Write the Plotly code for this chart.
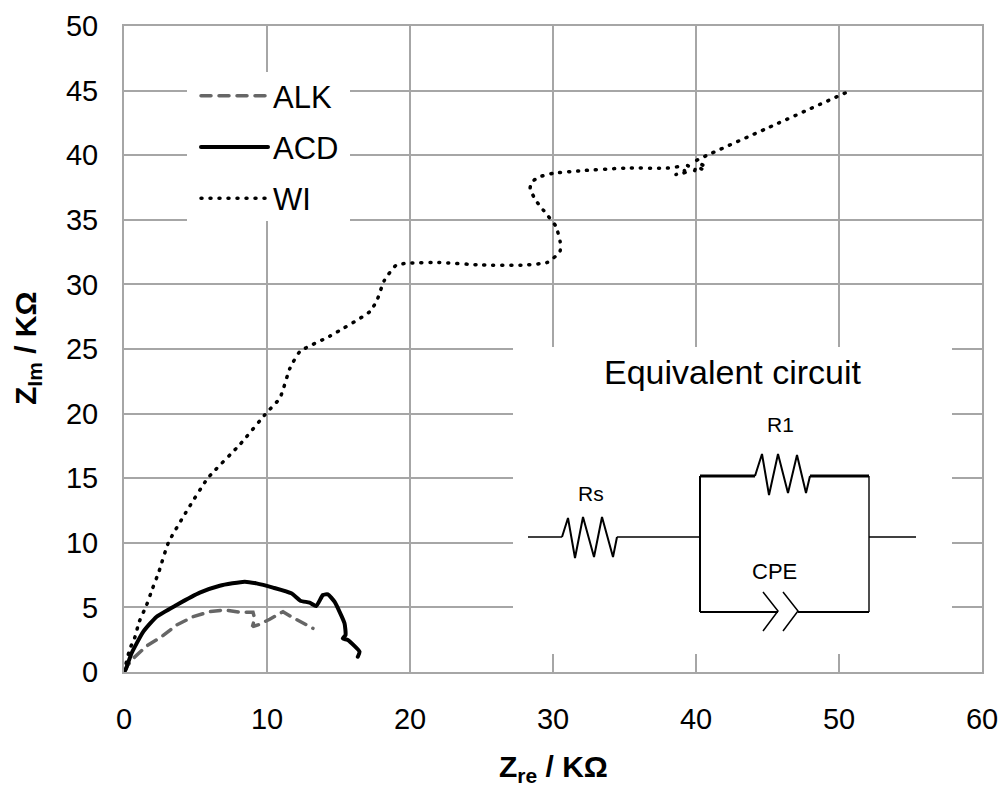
import plotly.graph_objects as go

FONT = "Liberation Sans"
GRID = "#a6a6a6"

# Nyquist curves: Zre / KOhm, Zim / KOhm
alk_x = [0.0, 0.25, 0.65, 1.58, 2.63, 3.68, 4.84, 6.0, 7.05, 8.09, 9.02, 9.14, 8.98, 9.37, 10.19, 11.12, 11.7, 12.51, 13.21]
alk_y = [0.0, 0.5, 1.06, 2.01, 2.73, 3.64, 4.28, 4.67, 4.8, 4.62, 4.62, 4.15, 3.51, 3.64, 4.08, 4.67, 4.28, 3.82, 3.38]

acd_x = [0.0, 0.12, 0.53, 1.35, 2.28, 3.68, 5.3, 6.7, 8.44, 9.26, 10.42, 11.7, 12.33, 12.98, 13.44, 13.91, 14.26, 14.72, 15.42, 15.49, 15.3, 15.65, 16.47, 16.35]
acd_y = [0.0, 0.2, 1.45, 3.12, 4.28, 5.19, 6.14, 6.68, 6.99, 6.86, 6.53, 6.09, 5.52, 5.37, 5.11, 5.96, 6.01, 5.44, 3.77, 2.86, 2.6, 2.48, 1.57, 1.18]

wi_x = [0.0, 0.42, 0.72, 1.07, 1.58, 2.0, 2.44, 3.1, 4.3, 5.86, 8.1, 10.0, 10.9, 11.6, 12.3, 14.4, 17.2, 17.7, 18.2, 19.05, 20.0, 22.0, 25.0, 28.0, 29.6, 30.2, 30.5, 30.5, 30.2, 29.5, 28.8, 28.4, 28.5, 29.0, 30.0, 32.0, 35.0, 38.0, 38.8, 39.2, 38.6, 39.3, 39.4, 39.9, 40.0, 40.5, 40.65, 40.0, 40.6, 45.0, 50.6]
wi_y = [0.0, 1.83, 2.55, 3.9, 5.19, 6.48, 7.76, 10.0, 12.3, 15.0, 17.6, 20.1, 21.2, 23.5, 24.8, 26.0, 27.9, 28.8, 30.3, 31.5, 31.65, 31.7, 31.5, 31.5, 31.7, 32.2, 32.6, 33.3, 34.5, 35.5, 36.5, 37.4, 37.9, 38.3, 38.6, 38.8, 39.0, 39.0, 39.1, 38.8, 38.5, 38.7, 39.2, 38.8, 39.1, 38.9, 39.1, 39.55, 39.9, 42.1, 44.9]

x_ticks = [0, 10, 20, 30, 40, 50, 60]
y_ticks = [0, 5, 10, 15, 20, 25, 30, 35, 40, 45, 50]

# Schematic of the equivalent circuit, in page pixels
W, H = 1003, 788
L, R, T, B = 124, 982, 26, 672

wire_thin = [
    [(528, 537), (562, 537)],
    [(617, 537), (700, 537)],
    [(869, 537), (916, 537)],
    [(869, 476), (869, 612)],
]
wire_mid = [
    [(700, 476), (700, 612)],
    [(700, 612), (778, 612)],
    [(798, 612), (869, 612)],
]
wire_thick = [
    [(700, 476), (755, 476)],
    [(810, 476), (869, 476)],
]
rs_zig = [(562, 537), (568, 518), (575, 558), (583, 517), (594, 557), (602, 517), (613, 557), (617, 537)]
r1_zig = [(755, 476), (762, 454), (769, 495), (778, 454), (788, 493), (797, 455), (806, 493), (810, 476)]
cpe_a = [(763, 592), (778, 611), (763, 631)]
cpe_b = [(783, 592), (798, 611), (783, 631)]


def frac_x(px):
    return (px - L) / (R - L)


def frac_y(py):
    return (B - py) / (B - T)


def path(pts):
    out = []
    for i, (px, py) in enumerate(pts):
        out.append(("M" if i == 0 else "L") + f"{frac_x(px):.5f},{frac_y(py):.5f}")
    return " ".join(out)


def stroke(pts, width):
    return dict(type="path", xref="paper", yref="paper", path=path(pts),
                line=dict(color="black", width=width), layer="above")


def white_box(x0, x1, y0, y1):
    return dict(type="rect", xref="x", yref="y", x0=frac_x(x0) * 60, x1=frac_x(x1) * 60,
                y0=frac_y(y1) * 50, y1=frac_y(y0) * 50, fillcolor="white",
                line=dict(width=0), layer="between")


shapes = [white_box(187, 350, 72, 221), white_box(513, 952, 347, 654)]
shapes += [stroke(p, 1.4) for p in wire_thin]
shapes += [stroke(p, 2) for p in wire_mid]
shapes += [stroke(p, 3.2) for p in wire_thick]
shapes += [stroke(rs_zig, 2), stroke(r1_zig, 2), stroke(cpe_a, 1.5), stroke(cpe_b, 1.5)]


def label(text, px, py, size):
    return dict(text=text, x=frac_x(px), y=frac_y(py), xref="paper", yref="paper",
                showarrow=False, xanchor="center", yanchor="middle",
                font=dict(family=FONT, size=size, color="black"))


annotations = [
    label("Equivalent circuit", 733, 372, 34),
    label("R1", 780, 424, 21),
    label("Rs", 591, 493, 21),
    label("CPE", 774, 571, 22),
    label("<b>Z<sub>re</sub> / KΩ</b>", 553, 768, 30),
]
y_title = label("<b>Z<sub>Im</sub> / KΩ</b>", 27, 348, 30)
y_title["textangle"] = -90
annotations.append(y_title)

fig = go.Figure()
fig.add_trace(go.Scatter(x=alk_x, y=alk_y, name="ALK", mode="lines", legendgroup="a",
                         line=dict(color="#666666", width=3.5, dash="10px,8px")))
fig.add_trace(go.Scatter(x=acd_x, y=acd_y, name="ACD", mode="lines", legendgroup="b",
                         line=dict(color="black", width=4, shape="spline", smoothing=0.5)))
fig.add_trace(go.Scatter(x=wi_x, y=wi_y, name="WI", mode="lines", legendgroup="c",
                         line=dict(color="black", width=3.5, dash="1px,8px", shape="spline", smoothing=0.5)))

axis_common = dict(showgrid=True, gridcolor=GRID, gridwidth=2, showline=True, linecolor=GRID,
                   linewidth=2, mirror=True, zeroline=False, ticks="",
                   tickfont=dict(family=FONT, size=29, color="black"))

fig.update_layout(
    width=W, height=H, margin=dict(l=L, r=W - R, t=T, b=H - B, pad=0, autoexpand=False),
    paper_bgcolor="white", plot_bgcolor="white",
    font=dict(family=FONT, color="black"),
    xaxis=dict(range=[0, 60], tickmode="array", tickvals=x_ticks, ticktext=[str(v) for v in x_ticks],
               ticklabelstandoff=20, **axis_common),
    yaxis=dict(range=[0, 50], tickmode="array", tickvals=y_ticks, ticktext=[str(v) for v in y_ticks],
               ticklabelstandoff=18, **axis_common),
    legend=dict(x=frac_x(196), y=frac_y(69), xanchor="left", yanchor="top", bgcolor="rgba(0,0,0,0)",
                font=dict(family=FONT, size=31), itemwidth=67, tracegroupgap=8, traceorder="grouped"),
    shapes=shapes, annotations=annotations,
)
post = """
document.body.style.margin = '0';
document.querySelectorAll('.js-line').forEach(function (el) {
  el.style.strokeLinecap = 'round';
});
"""
fig.write_html("out.html", post_script=post, config=dict(displayModeBar=False))
